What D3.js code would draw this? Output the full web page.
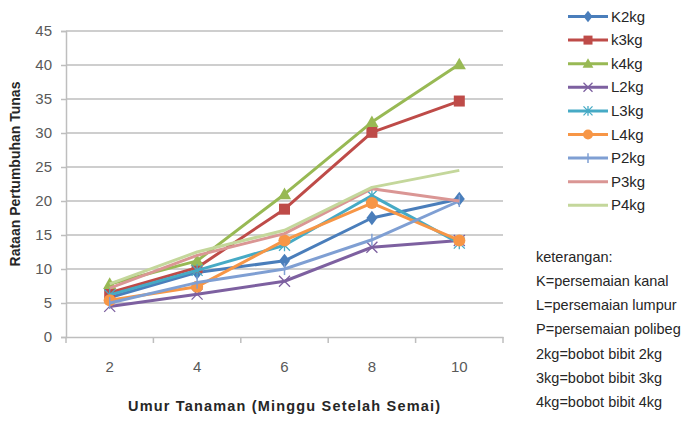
<!DOCTYPE html>
<html><head><meta charset="utf-8">
<script src="https://cdn.jsdelivr.net/npm/d3@7"></script>
<style>body{margin:0;background:#fff}svg{display:block}</style>
</head><body>
<svg id="c" width="688" height="421"></svg>
<script>
const categories = ["2","4","6","8","10"];
const seriesNames = ["K2kg","k3kg","k4kg","L2kg","L3kg","L4kg","P2kg","P3kg","P4kg"];
const K2 = [5.8, 9.5, 11.2, 17.5, 20.3];
const k3 = [6.5, 10.2, 18.8, 30.1, 34.7];
const k4 = [7.8, 11.2, 21.0, 31.6, 40.1];
const L2 = [4.5, 6.3, 8.2, 13.2, 14.2];
const L3 = [6.2, 9.8, 13.5, 20.8, 13.8];
const L4 = [5.4, 7.4, 14.2, 19.7, 14.2];
const P2 = [5.0, 8.0, 10.0, 14.3, 20.0];
const P3 = [7.2, 12.0, 15.2, 21.8, 20.0];
const P4 = [7.8, 12.5, 15.7, 22.0, 24.5];
const yTicks = [0,5,10,15,20,25,30,35,40,45];
const notes = ["keterangan:","K=persemaian kanal","L=persemaian lumpur","P=persemaian polibeg","2kg=bobot bibit 2kg","3kg=bobot bibit 3kg","4kg=bobot bibit 4kg"];
const xTitle = "Umur Tanaman  (Minggu Setelah Semai)";
const yTitle = "Rataan Pertumbuhan Tunas";

const values = [K2,k3,k4,L2,L3,L4,P2,P3,P4];
const colors = ["#4A7EBB","#BE4B48","#98B954","#7D60A0","#46AAC5","#F79646","#7F9FD3","#DA9694","#C4D79B"];
const markers = ["diamond","square","triangle","x","star","circle","plus",null,null];

const svg = d3.select("#c");
const L = 66, R = 503, T = 31, B = 337;
const x = d3.scaleBand().domain(categories).range([L,R]);
const y = d3.scaleLinear().domain([0,45]).range([B,T]);
const font = "'Liberation Sans Narrow','Liberation Sans',Arial,sans-serif";
const tickCol = "#595959";

// gridlines
svg.append("g").selectAll("line").data(yTicks.slice(1)).join("line")
  .attr("x1",L).attr("x2",R).attr("y1",d=>y(d)).attr("y2",d=>y(d))
  .attr("stroke","#BEBEBE").attr("stroke-width",1.5);

// y axis
const ya = svg.append("g").attr("transform",`translate(${L},0)`)
  .call(d3.axisLeft(y).tickValues(yTicks).tickSize(5).tickPadding(9));
ya.select(".domain").attr("stroke","#BEBEBE").attr("stroke-width",1.5);
ya.selectAll(".tick line").attr("stroke","#BEBEBE").attr("stroke-width",1.5);
ya.selectAll("text").attr("font-family",font).attr("font-size",15).attr("fill",tickCol);

// x axis
const xa = svg.append("g").attr("transform",`translate(0,${B})`)
  .call(d3.axisBottom(x).tickSize(0).tickPadding(24));
xa.select(".domain").attr("stroke","#BEBEBE").attr("stroke-width",1.5);
xa.selectAll("text").attr("font-family",font).attr("font-size",15).attr("fill",tickCol);
const bounds = categories.map((c,i)=>x(c)+x.bandwidth()).slice(0,-1).concat([R]);
xa.append("g").selectAll("line").data([L].concat(bounds)).join("line")
  .attr("x1",d=>d).attr("x2",d=>d).attr("y1",0).attr("y2",6)
  .attr("stroke","#BEBEBE").attr("stroke-width",1.5);

// titles
svg.append("text").attr("x",284).attr("y",411).attr("text-anchor","middle")
  .attr("font-family","Arial,'Liberation Sans',sans-serif").attr("font-weight","bold")
  .attr("font-size",14.5).attr("fill","#262626")
  .attr("textLength",312).attr("lengthAdjust","spacing").text(xTitle);
svg.append("text").attr("transform","translate(20,174) rotate(-90)").attr("text-anchor","middle")
  .attr("font-family","Arial,'Liberation Sans',sans-serif").attr("font-weight","bold")
  .attr("font-size",14).attr("fill","#262626").text(yTitle);

function drawMarker(g, type, cx, cy, col, s){
  if(!type) return;
  if(type==="diamond"){
    g.append("path").attr("d",`M${cx},${cy-s*0.65}L${cx+s*0.5},${cy}L${cx},${cy+s*0.65}L${cx-s*0.5},${cy}Z`).attr("fill",col);
  } else if(type==="square"){
    g.append("rect").attr("x",cx-s/2).attr("y",cy-s/2).attr("width",s).attr("height",s).attr("fill",col);
  } else if(type==="triangle"){
    g.append("path").attr("d",`M${cx},${cy-s*0.6}L${cx+s*0.6},${cy+s*0.45}L${cx-s*0.6},${cy+s*0.45}Z`).attr("fill",col);
  } else if(type==="circle"){
    g.append("circle").attr("cx",cx).attr("cy",cy).attr("r",s*0.55).attr("fill",col);
  } else if(type==="x"){
    const h=s*0.5;
    g.append("path").attr("d",`M${cx-h},${cy-h}L${cx+h},${cy+h}M${cx-h},${cy+h}L${cx+h},${cy-h}`).attr("stroke",col).attr("stroke-width",1.3).attr("fill","none");
  } else if(type==="star"){
    const h=s*0.5;
    g.append("path").attr("d",`M${cx-h},${cy-h}L${cx+h},${cy+h}M${cx-h},${cy+h}L${cx+h},${cy-h}M${cx},${cy-h*1.1}L${cx},${cy+h*1.1}`).attr("stroke",col).attr("stroke-width",1.3).attr("fill","none");
  } else if(type==="plus"){
    const h=s*0.55;
    g.append("path").attr("d",`M${cx},${cy-h}L${cx},${cy+h}`).attr("stroke",col).attr("stroke-width",1.5).attr("fill","none");
  }
}

const line = d3.line().x((d,i)=>x(categories[i])+x.bandwidth()/2).y(d=>y(d));
const plot = svg.append("g");
values.forEach((vals,si)=>{
  const g = plot.append("g");
  g.append("path").datum(vals).attr("d",line).attr("fill","none")
    .attr("stroke",colors[si]).attr("stroke-width",3).attr("stroke-linejoin","round");
  vals.forEach((v,i)=>drawMarker(g, markers[si], x(categories[i])+x.bandwidth()/2, y(v), colors[si], 11));
});

// legend
const lg = svg.append("g");
seriesNames.forEach((n,i)=>{
  const yy = 16.5 + i*23.6;
  lg.append("line").attr("x1",568).attr("x2",608).attr("y1",yy).attr("y2",yy)
    .attr("stroke",colors[i]).attr("stroke-width",3);
  drawMarker(lg, markers[i], 588, yy, colors[i], 9);
  lg.append("text").attr("x",611).attr("y",yy+5).attr("font-family",font)
    .attr("font-size",15).attr("fill","#262626").text(n);
});

// notes
svg.append("g").selectAll("text").data(notes).join("text")
  .attr("x",536).attr("y",(d,i)=>261.5+i*24.3)
  .attr("font-family",font).attr("font-size",14.5).attr("fill","#262626").text(d=>d);
</script>
</body></html>
